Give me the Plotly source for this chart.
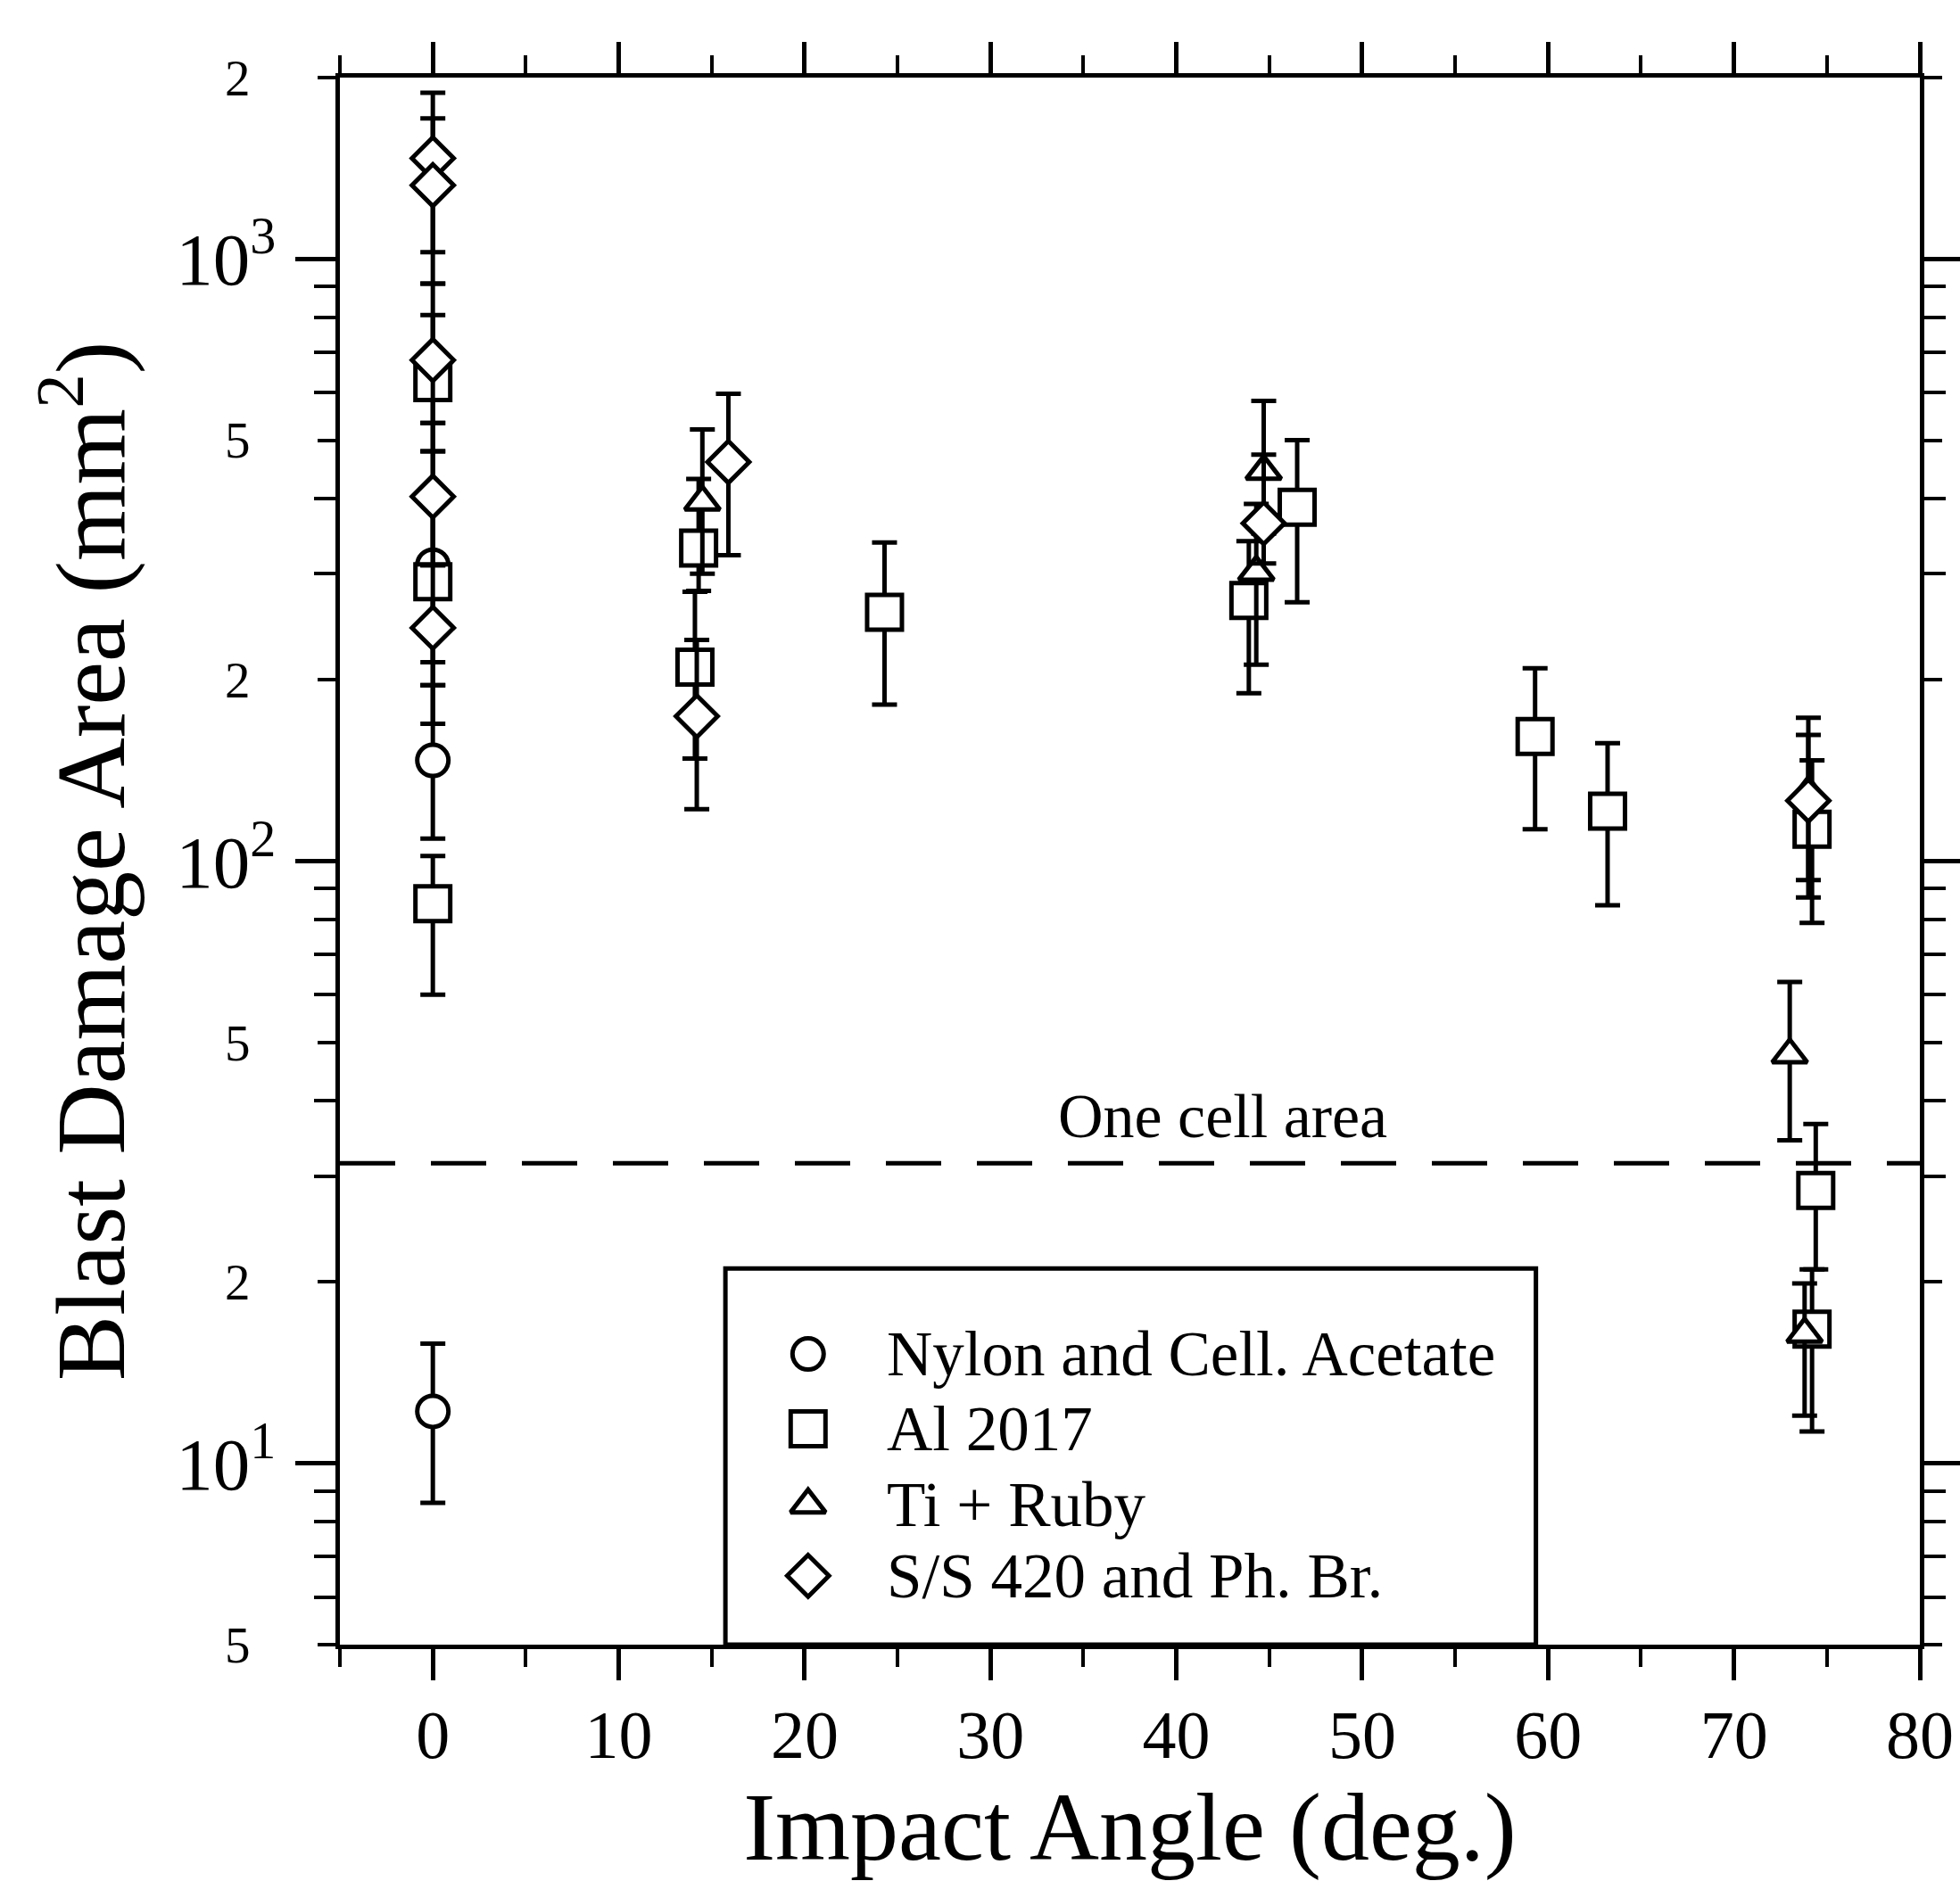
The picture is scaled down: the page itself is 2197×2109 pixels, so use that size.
import math
import plotly.graph_objects as go

# ---------------- data ----------------
series_names = ["Nylon and Cell. Acetate", "Al 2017", "Ti + Ruby", "S/S 420 and Ph. Br."]

nylon_x = [0, 0, 0]
nylon_y = [310, 147, 12.2]
nylon_hi = [403, 196, 15.8]
nylon_lo = [214, 109, 8.6]

al_x = [0, 0, 0, 14.3, 14.1, 24.3, 43.9, 46.5, 59.3, 63.2, 74.2, 74.4, 74.2]
al_y = [623, 291, 85, 331, 210, 259, 271, 387, 161, 121, 113, 28.4, 16.7]
al_hi = [910, 479, 102, 431, 280, 338, 340, 500, 209, 157, 147, 36.6, 21.0]
al_lo = [479, 196, 60, 281, 148, 182, 190, 269, 113, 84.5, 79, 21.0, 11.3]

ti_x = [14.5, 44.7, 44.3, 74.0, 73.0, 73.8]
ti_y = [395, 444, 302, 130, 47.7, 16.4]
ti_hi = [521, 581, 392, 173, 63, 19.9]
ti_lo = [300, 350, 212, 87, 34.4, 12.0]

ss_x = [0, 0, 0, 0, 0, 15.9, 14.2, 44.7, 74.0]
ss_y = [1469, 1325, 679, 403, 244, 460, 174, 364, 126]
ss_hi = [1888, 1711, 807, 534, 310, 597, 233, 473, 162]
ss_lo = [1026, 910, 534, 310, 169, 322, 122, 312, 93]

one_cell_area = 31.5
one_cell_label = "One cell area"
one_cell_label_x = 42.5

x_range = [-5, 80]
y_range = [5, 2000]
x_ticks = [0, 10, 20, 30, 40, 50, 60, 70, 80]
y_major_vals = [10, 100, 1000]
y_major_text = ["10<sup>1</sup>", "10<sup>2</sup>", "10<sup>3</sup>"]
y_mid_vals = [5, 20, 50, 200, 500, 2000]
y_mid_text = ["5", "2", "5", "2", "5", "2"]
y_minor_vals = [3, 4, 6, 7, 8, 9, 30, 40, 60, 70, 80, 90, 300, 400, 600, 700, 800, 900]

# ---------------- figure ----------------
SERIF = "Liberation Serif, Times New Roman, serif"
BLACK = "#000000"

# legend panel layout (fractions of the legend panel)
LEG_DOMAIN_X = [0.244, 0.757]
LEG_DOMAIN_Y = [0.0, 0.240]
LEG_SYM_X = 0.102
LEG_TEXT_X = 0.197
LEG_ROWS_Y = [0.773, 0.574, 0.372, 0.183]

fig = go.Figure()

def add_series(name, xs, ys, his, los, symbol, size, row):
    marker = dict(symbol=symbol, size=size, color="white",
                  line=dict(color=BLACK, width=5))
    fig.add_trace(go.Scatter(
        x=xs, y=ys, name=name, mode="markers", marker=marker, showlegend=False,
        error_y=dict(type="data", symmetric=False,
                     array=[h - v for h, v in zip(his, ys)],
                     arrayminus=[v - l for l, v in zip(los, ys)],
                     color=BLACK, thickness=5, width=14),
    ))
    # legend entry (symbol + label) inside the framed legend panel
    fig.add_trace(go.Scatter(
        x=[LEG_SYM_X], y=[LEG_ROWS_Y[row]], xaxis="x2", yaxis="y3",
        mode="markers", marker=marker, showlegend=False, hoverinfo="skip",
        name=name,
    ))
    fig.add_annotation(
        x=LEG_TEXT_X, y=LEG_ROWS_Y[row], xref="x2", yref="y3",
        text=name, showarrow=False, xanchor="left", yanchor="middle",
        font=dict(family=SERIF, size=71, color=BLACK),
    )

add_series(series_names[0], nylon_x, nylon_y, nylon_hi, nylon_lo, "circle", 35, 0)
add_series(series_names[1], al_x, al_y, al_hi, al_lo, "square", 39, 1)
add_series(series_names[2], ti_x, ti_y, ti_hi, ti_lo, "triangle-up", 34, 2)
add_series(series_names[3], ss_x, ss_y, ss_hi, ss_lo, "diamond", 36, 3)

# dashed "one cell area" line (on the overlay axis so that axis is rendered)
fig.add_trace(go.Scatter(
    x=x_range, y=[one_cell_area, one_cell_area], mode="lines",
    line=dict(color=BLACK, width=5, dash="62px,40px"),
    showlegend=False, hoverinfo="skip", yaxis="y2",
))

fig.add_annotation(
    x=one_cell_label_x, y=math.log10(one_cell_area), xref="x", yref="y",
    text=one_cell_label, showarrow=False, yanchor="bottom", yshift=12,
    font=dict(family=SERIF, size=70, color=BLACK),
)

# legend frame
fig.add_shape(type="rect", xref="paper", yref="paper",
              x0=LEG_DOMAIN_X[0], x1=LEG_DOMAIN_X[1],
              y0=LEG_DOMAIN_Y[0], y1=LEG_DOMAIN_Y[1],
              line=dict(color=BLACK, width=5), fillcolor="rgba(0,0,0,0)",
              layer="above")

fig.update_layout(
    width=2197, height=2109,
    margin=dict(l=381, r=45, t=87, b=265),
    paper_bgcolor="white", plot_bgcolor="white",
    font=dict(family=SERIF, color=BLACK),
    showlegend=False,
    xaxis=dict(
        range=x_range, tickmode="array", tickvals=x_ticks,
        ticks="outside", ticklen=35, tickwidth=5, tickcolor=BLACK,
        showline=True, linewidth=5, linecolor=BLACK, mirror="ticks",
        showgrid=False, zeroline=False, automargin=False,
        tickfont=dict(family=SERIF, size=76, color=BLACK),
        ticklabelstandoff=-4,
        minor=dict(dtick=5, tick0=0, ticks="outside", ticklen=20, tickwidth=4,
                   tickcolor=BLACK, showgrid=False),
        title=dict(text="Impact Angle (deg.)", standoff=34,
                   font=dict(family=SERIF, size=108, color=BLACK)),
    ),
    yaxis=dict(
        type="log", range=[math.log10(y_range[0]), math.log10(y_range[1])],
        tickmode="array", tickvals=y_major_vals, ticktext=y_major_text,
        ticks="outside", ticklen=45, tickwidth=5, tickcolor=BLACK,
        showline=True, linewidth=5, linecolor=BLACK, mirror="ticks",
        showgrid=False, zeroline=False, automargin=False,
        tickfont=dict(family=SERIF, size=83, color=BLACK),
        ticklabelstandoff=5,
        minor=dict(tickmode="array", tickvals=y_minor_vals, ticks="outside",
                   ticklen=24, tickwidth=4, tickcolor=BLACK, showgrid=False),
        title=dict(text="Blast Damage Area (mm<sup>2</sup>)", standoff=22,
                   font=dict(family=SERIF, size=110, color=BLACK)),
    ),
    yaxis2=dict(
        type="log", range=[math.log10(y_range[0]), math.log10(y_range[1])],
        overlaying="y", side="left", anchor="x",
        tickmode="array", tickvals=y_mid_vals, ticktext=y_mid_text,
        ticks="outside", ticklen=24, tickwidth=4, tickcolor=BLACK,
        showline=False, mirror="ticks", showgrid=False, zeroline=False,
        automargin=False,
        tickfont=dict(family=SERIF, size=57, color=BLACK),
        ticklabelstandoff=64,
    ),
    xaxis2=dict(domain=LEG_DOMAIN_X, range=[0, 1], anchor="y3",
                visible=False, fixedrange=True, automargin=False),
    yaxis3=dict(domain=LEG_DOMAIN_Y, range=[0, 1], anchor="x2",
                visible=False, fixedrange=True, automargin=False),
)

fig.write_html("out.html")
